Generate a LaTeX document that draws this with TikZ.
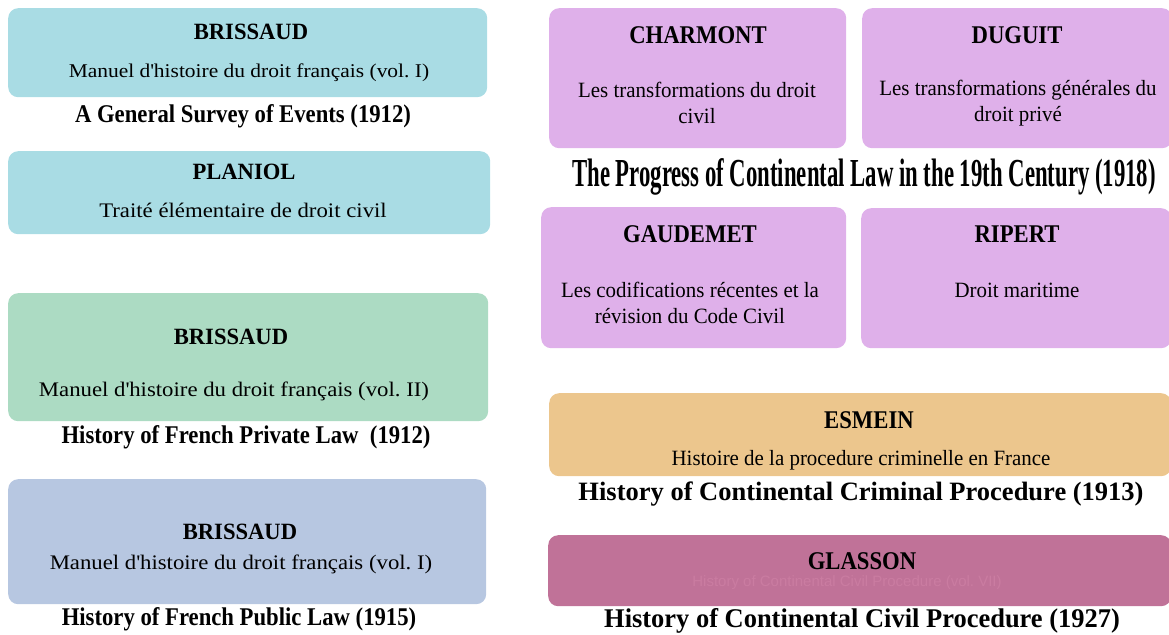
\documentclass[tikz,border=0pt]{standalone}
\usepackage{fontspec}
\setmainfont{Liberation Serif}
% serif at a given stretch and size
\newcommand{\ff}[2]{\fontspec{Liberation Serif}[FakeStretch=#1]\fontsize{#2}{26}\selectfont}
\definecolor{cyanbox}{RGB}{169,220,228}
\definecolor{greenbox}{RGB}{172,219,195}
\definecolor{bluebox}{RGB}{183,199,225}
\definecolor{violetbox}{RGB}{223,176,234}
\definecolor{orangebox}{RGB}{236,198,141}
\definecolor{mauvebox}{RGB}{192,114,152}
\definecolor{mauvetext}{RGB}{202,124,161}
\frenchspacing
\begin{document}
\begin{tikzpicture}[x=1pt, y=-1pt,
    box/.style = {rounded corners=10pt, inner sep=0pt, anchor=north west},
    who/.style = {font=\ff{0.97}{23.3}\bfseries},
    work/.style = {font=\ff{1.1}{20.7}, align=center},
    survey/.style = {font=\ff{0.89}{25.5}\bfseries},
    nwho/.style = {font=\ff{0.89}{25.5}\bfseries},
    nwork/.style = {font=\ff{0.96}{21.8}, align=center},
    nsurvey/.style = {font=\ff{1.0}{26.5}\bfseries}]
    \useasboundingbox (0,0) rectangle (1169,634);
    % left column
    \node[box, fill=cyanbox, minimum width=479pt, minimum height=89pt] (b1) at (8,8) {};
    \node[who] (b1who) at (251,32) {BRISSAUD};
    \node[work, font=\ff{1.1}{19.5}] (b1work) at (249,73) {Manuel d\textquotesingle histoire du droit français (vol. I)};
    \node[survey] (b1survey) at (243,116) {A General Survey of Events (1912)};
    \node[box, fill=cyanbox, minimum width=482pt, minimum height=83pt] (p1) at (8,151) {};
    \node[who] (p1who) at (244,172) {PLANIOL};
    \node[work] (p1work) at (243,210) {Traité élémentaire de droit civil};
    \node[box, fill=greenbox, minimum width=480pt, minimum height=128pt] (b2) at (8,293) {};
    \node[who] (b2who) at (231,337) {BRISSAUD};
    \node[work] (b2work) at (234,391) {Manuel d\textquotesingle histoire du droit français (vol. II)};
    \node[survey] (b2survey) at (246,437) {History of French Private Law~~(1912)};
    \node[box, fill=bluebox, minimum width=478pt, minimum height=125pt] (b3) at (8,479) {};
    \node[who] (b3who) at (240,532) {BRISSAUD};
    \node[work] (b3work) at (241,564) {Manuel d\textquotesingle histoire du droit français (vol. I)};
    \node[survey] (b3survey) at (239,619) {History of French Public Law (1915)};
    % right column
    \node[box, fill=violetbox, minimum width=297pt, minimum height=140pt] (c1) at (549,8) {};
    \node[nwho] (c1who) at (698,35) {CHARMONT};
    \node[nwork] (c1work) at (697,103) {Les transformations du droit\\civil};
    \node[box, fill=violetbox, minimum width=310pt, minimum height=140pt] (d1) at (862,8) {};
    \node[nwho] (d1who) at (1017,35) {DUGUIT};
    \node[nwork] (d1work) at (1018,103) {Les transformations générales du\\droit privé};
    \node[nsurvey, font=\ff{0.573}{39.7}\bfseries] (c1survey) at (864,177) {The Progress of Continental Law in the 19th Century (1918)};
    \node[box, fill=violetbox, minimum width=305pt, minimum height=141pt] (g1) at (541,207) {};
    \node[nwho] (g1who) at (690,234) {GAUDEMET};
    \node[nwork] (g1work) at (690,303) {Les codifications récentes et la\\révision du Code Civil};
    \node[box, fill=violetbox, minimum width=310pt, minimum height=140pt] (r1) at (861,208) {};
    \node[nwho] (r1who) at (1017,234) {RIPERT};
    \node[nwork] (r1work) at (1017,290) {Droit maritime};
    \node[box, fill=orangebox, minimum width=622pt, minimum height=83pt] (e1) at (549,393) {};
    \node[nwho] (e1who) at (869,420) {ESMEIN};
    \node[nwork] (e1work) at (861,460) {Histoire de la procedure criminelle en France};
    \node[nsurvey] (e1survey) at (861,494) {History of Continental Criminal Procedure (1913)};
    \node[box, fill=mauvebox, minimum width=623pt, minimum height=71pt] (gl) at (548,535) {};
    \node[nwho, inner sep=0pt] (glwho) at (862,561) {GLASSON};
    \node[font=\fontspec{Liberation Sans}\fontsize{15}{18}\selectfont, text=mauvetext, inner sep=0pt] (glwork) at (847,583) {History of Continental Civil Procedure (vol. VII)};
    \node[nsurvey, font=\ff{0.98}{27}\bfseries] (glsurvey) at (862,621) {History of Continental Civil Procedure (1927)};
\end{tikzpicture}
\end{document}
